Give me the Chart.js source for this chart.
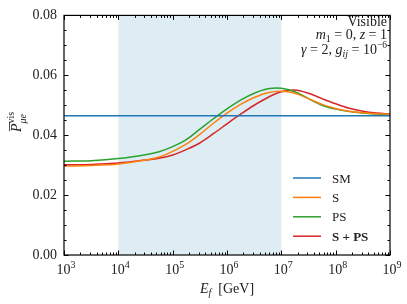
<!DOCTYPE html>
<html>
<head>
<meta charset="utf-8">
<script src="https://cdn.jsdelivr.net/npm/chart.js@4.4.1/dist/chart.umd.min.js"></script>
<style>
    html, body { margin: 0; padding: 0; background: #fff; }
    #wrap { width: 407px; height: 304px; }
</style>
</head>
<body>
<div id="wrap"><canvas id="chart" width="407" height="304"></canvas></div>
<script>
// --- Dados ---
const energies = [1e3, 3162, 1e4, 31623, 56234, 1e5, 177828, 316228, 562341, 1e6, 1778279, 3162278,
    5623413, 1e7, 17782794, 31622777, 56234133, 1e8, 177827941, 316227766, 562341325, 1e9];
const smEnergies = [1e3, 1e9];
const smValues = [0.0465, 0.0465];
const sValues = [0.0297, 0.0299, 0.0304, 0.0317, 0.0327, 0.0346, 0.0370, 0.0403, 0.0440, 0.0474, 0.0503,
    0.0526, 0.0542, 0.0547, 0.0540, 0.0522, 0.0503, 0.0489, 0.0480, 0.0475, 0.0472, 0.0470];
const psValues = [0.0313, 0.0315, 0.0322, 0.0335, 0.0345, 0.0362, 0.0385, 0.0420, 0.0455, 0.0488, 0.0517,
    0.0540, 0.0555, 0.0557, 0.0545, 0.0522, 0.0500, 0.0487, 0.0479, 0.0474, 0.0471, 0.0469];
const spsValues = [0.0301, 0.0302, 0.0307, 0.0317, 0.0323, 0.0334, 0.0352, 0.0374, 0.0405, 0.0438, 0.0470,
    0.0500, 0.0526, 0.0545, 0.0551, 0.0540, 0.0522, 0.0505, 0.0490, 0.0480, 0.0474, 0.0471];
const shadeRange = [1e4, 1e7];
const xMajorTicks = [1e3, 1e4, 1e5, 1e6, 1e7, 1e8, 1e9];
const yTicks = [0, 0.02, 0.04, 0.06, 0.08];

const colors = { SM: '#1f77b4', S: '#ff7f0e', PS: '#2ca02c', SPS: '#d62728' };
const SERIF = '"Liberation Serif", "DejaVu Serif", serif';

function toPoints(xs, ys) {
    return xs.map((x, i) => ({ x: x, y: ys[i] }));
}

function fontOf(r) {
    return (r.italic ? 'italic ' : '') + (r.bold ? 'bold ' : '') + (r.size || 13) + 'px ' + SERIF;
}

// Desenha uma sequência de trechos de texto (com sub/sobrescritos)
function drawRuns(ctx, runs, x, y, align) {
    let total = 0;
    runs.forEach(r => { ctx.font = fontOf(r); r.w = ctx.measureText(r.t).width; total += r.w; });
    let cx = x;
    if (align === 'right') cx = x - total;
    if (align === 'center') cx = x - total / 2;
    runs.forEach(r => {
        ctx.font = fontOf(r);
        ctx.fillText(r.t, cx, y + (r.dy || 0));
        cx += r.w;
    });
    return { left: x - (align === 'right' ? total : align === 'center' ? total / 2 : 0), width: total };
}

// --- Faixa sombreada (atrás das linhas) ---
const shadePlugin = {
    id: 'shade',
    beforeDatasetsDraw(chart) {
        const { ctx, chartArea, scales } = chart;
        const x0 = scales.x.getPixelForValue(shadeRange[0]);
        const x1 = scales.x.getPixelForValue(shadeRange[1]);
        ctx.save();
        ctx.fillStyle = '#deedf4';
        ctx.fillRect(x0, chartArea.top, x1 - x0, chartArea.bottom - chartArea.top);
        ctx.restore();
    }
};

// --- Moldura, ticks internos, rótulos, legenda e anotações ---
const decorPlugin = {
    id: 'decor',
    afterDraw(chart) {
        const { ctx, chartArea: a, scales } = chart;
        const xs = scales.x, ys = scales.y;
        ctx.save();
        ctx.strokeStyle = '#000';
        ctx.lineWidth = 1;

        // ticks do eixo x (embaixo e em cima)
        ctx.beginPath();
        for (let d = 0; d < xMajorTicks.length; d++) {
            const base = xMajorTicks[d];
            for (let m = 1; m <= 9; m++) {
                const v = base * m;
                if (v > xMajorTicks[xMajorTicks.length - 1]) break;
                const px = Math.round(xs.getPixelForValue(v)) + 0.5;
                const len = m === 1 ? 4.5 : 2.5;
                ctx.moveTo(px, a.bottom); ctx.lineTo(px, a.bottom - len);
                ctx.moveTo(px, a.top); ctx.lineTo(px, a.top + len);
            }
        }
        // ticks do eixo y (esquerda e direita)
        for (let k = 0; k <= 16; k++) {
            const v = k * 0.005;
            const py = Math.round(ys.getPixelForValue(v)) + 0.5;
            const len = k % 4 === 0 ? 4.5 : 2.5;
            ctx.moveTo(a.left, py); ctx.lineTo(a.left + len, py);
            ctx.moveTo(a.right, py); ctx.lineTo(a.right - len, py);
        }
        ctx.stroke();

        // moldura
        ctx.lineWidth = 1.2;
        ctx.strokeRect(a.left, a.top, a.right - a.left, a.bottom - a.top);

        ctx.fillStyle = '#222';
        ctx.textBaseline = 'alphabetic';

        // rótulos do eixo x: 10^n
        xMajorTicks.forEach(v => {
            const px = xs.getPixelForValue(v);
            const exp = String(Math.round(Math.log10(v)));
            drawRuns(ctx, [{ t: '10', size: 14 }, { t: exp, size: 10, dy: -6 }], px + 2, a.bottom + 19, 'center');
        });

        // título do eixo x
        drawRuns(ctx, [
            { t: 'E', italic: true, size: 14 },
            { t: 'f', italic: true, size: 10, dy: 3 },
            { t: '  [GeV]', size: 14 }
        ], (a.left + a.right) / 2, a.bottom + 38, 'center');

        // título do eixo y (rotacionado)
        ctx.save();
        ctx.translate(21, 122);
        ctx.rotate(-Math.PI / 2);
        const res = drawRuns(ctx, [
            { t: 'P', italic: true, size: 14 },
            { t: 'vis', size: 10, dy: -7 }
        ], 0, 0, 'center');
        ctx.font = 'italic 14px ' + SERIF;
        const pw = ctx.measureText('P').width;
        ctx.font = 'italic 10px ' + SERIF;
        ctx.fillText('\u03bce', res.left + pw, 5);
        ctx.beginPath();
        ctx.lineWidth = 0.8;
        ctx.strokeStyle = '#222';
        ctx.moveTo(res.left + 1, -11.5); ctx.lineTo(res.left + pw + 1, -11.5);
        ctx.stroke();
        ctx.restore();

        // anotações (canto superior direito)
        const rx = a.right - 3;
        const fs = 14;
        drawRuns(ctx, [{ t: 'Visible', size: fs }], rx, a.top + 11, 'right');
        drawRuns(ctx, [
            { t: 'm', italic: true, size: fs }, { t: '1', size: 10, dy: 3 },
            { t: ' = 0, ', size: fs }, { t: 'z', italic: true, size: fs }, { t: ' = 1', size: fs }
        ], rx, a.top + 24, 'right');
        drawRuns(ctx, [
            { t: '\u03b3', italic: true, size: fs }, { t: ' = 2, ', size: fs },
            { t: 'g', italic: true, size: fs }, { t: 'ij', italic: true, size: 10, dy: 3 },
            { t: ' = 10', size: fs }, { t: '\u22126', size: 9.5, dy: -6 }
        ], rx, a.top + 39, 'right');

        // legenda
        const legend = [
            { label: 'SM', color: colors.SM, bold: false },
            { label: 'S', color: colors.S, bold: false },
            { label: 'PS', color: colors.PS, bold: false },
            { label: 'S + PS', color: colors.SPS, bold: true }
        ];
        legend.forEach((item, i) => {
            const y = 178 + i * 19.4;
            ctx.beginPath();
            ctx.strokeStyle = item.color;
            ctx.lineWidth = 1.5;
            ctx.moveTo(293, y); ctx.lineTo(321, y);
            ctx.stroke();
            ctx.fillStyle = '#222';
            drawRuns(ctx, [{ t: item.label, size: 13, bold: item.bold }], 332, y + 4.5, 'left');
        });
        ctx.restore();
    }
};

function lineDs(label, data, color) {
    return {
        label: label,
        data: data,
        borderColor: color,
        backgroundColor: color,
        borderWidth: 1.5,
        pointRadius: 0,
        fill: false,
        tension: 0.35
    };
}

const ctx = document.getElementById('chart').getContext('2d');
const chart = new Chart(ctx, {
    type: 'line',
    data: {
        datasets: [
            lineDs('SM', toPoints(smEnergies, smValues), colors.SM),
            lineDs('S', toPoints(energies, sValues), colors.S),
            lineDs('PS', toPoints(energies, psValues), colors.PS),
            lineDs('S + PS', toPoints(energies, spsValues), colors.SPS)
        ]
    },
    options: {
        responsive: false,
        animation: false,
        devicePixelRatio: 1,
        layout: { padding: { top: 13, right: 17, left: 0, bottom: 0 } },
        scales: {
            x: {
                type: 'logarithmic',
                min: xMajorTicks[0],
                max: xMajorTicks[xMajorTicks.length - 1],
                grid: { display: false },
                border: { display: false },
                ticks: { display: false },
                afterFit(scale) { scale.height = 49; }
            },
            y: {
                min: yTicks[0],
                max: yTicks[yTicks.length - 1],
                grid: { display: false, drawTicks: false },
                border: { display: false },
                ticks: {
                    stepSize: 0.02,
                    padding: 7,
                    color: '#222',
                    font: { family: SERIF, size: 14 },
                    callback: v => v.toFixed(2)
                },
                afterFit(scale) { scale.width = 64; }
            }
        },
        plugins: {
            legend: { display: false },
            tooltip: { enabled: false }
        }
    },
    plugins: [shadePlugin, decorPlugin]
});
</script>
</body>
</html>
